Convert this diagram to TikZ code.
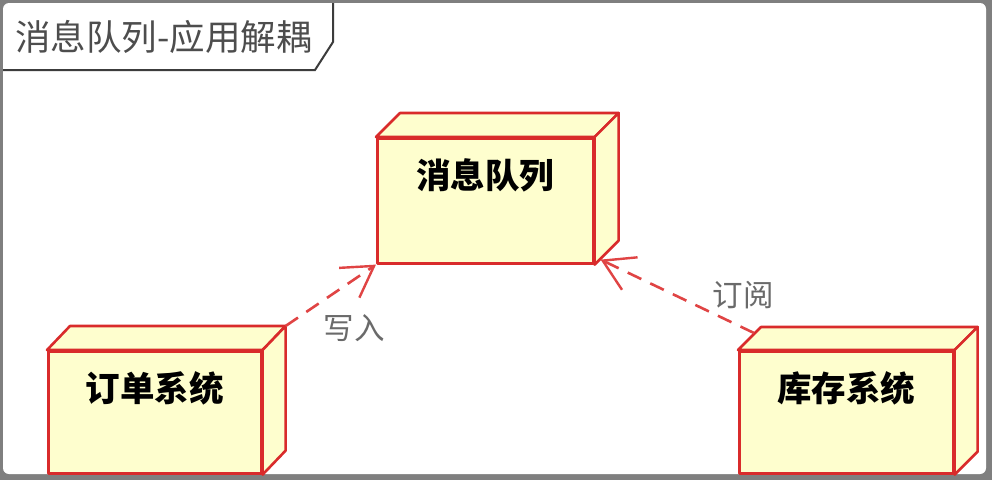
\documentclass[tikz,border=0pt]{standalone}
\usepackage{fontspec}
\newfontfamily\cjk{Noto Sans CJK SC}
\usetikzlibrary{arrows.meta,calc}
\definecolor{frameg}{HTML}{7F7F7F}
\definecolor{tabline}{HTML}{3C3C3C}
\definecolor{nodefill}{HTML}{FEFECE}
\definecolor{nodered}{HTML}{D92B2B}
\definecolor{arrred}{HTML}{E04444}
\definecolor{labelg}{HTML}{6A6A6A}
\definecolor{titleg}{HTML}{4D4D4D}
\begin{document}
\begin{tikzpicture}[x=1pt,y=-1pt,
  front/.style={draw=nodered, fill=nodefill, line width=2.6pt, inner sep=0pt, anchor=north west, line join=round},
  face/.style={draw=nodered, fill=nodefill, line width=2.6pt, line join=round},
  boxlabel/.style={font=\cjk\bfseries\fontsize{34.5}{38}\selectfont, text=black, inner sep=0pt},
  deplabel/.style={font=\cjk\fontsize{30.5}{33}\selectfont, text=labelg, inner sep=0pt},
  titletext/.style={font=\cjk\fontsize{35.5}{38}\selectfont, text=titleg, inner sep=0pt, anchor=west},
  dep/.style={draw=arrred, line width=2.6pt, dash pattern=on 15pt off 10pt,
    -{Straight Barb[length=30pt,width=36pt,line width=2.4pt]}}]
\useasboundingbox (0,0) rectangle (992,480);
% outer frame
\fill[frameg] (0,0) rectangle (992,480);
\fill[white, rounded corners=6pt] (3,3) rectangle (986,474);
% title tab
\draw[tabline, line width=2pt] (3,70) -- (315,70) -- (333,42) -- (333,3);
\node[titletext] (title) at (15,37) {消息队列-应用解耦};

% message queue
\node[front, minimum width=216pt, minimum height=125pt] (mq) at (376,137) {};
\draw[face] (mq.north west) -- ($(mq.north west)+(24,-24)$) -- ($(mq.north east)+(24,-24)$) -- (mq.north east) -- cycle;
\draw[face] (mq.north east) -- ($(mq.north east)+(24,-24)$) -- ($(mq.south east)+(24,-24)$) -- (mq.south east) -- cycle;
\node[boxlabel] (mqt) at ($(mq.north)+(0,38)$) {消息队列};

% order system
\node[front, minimum width=213pt, minimum height=122pt] (order) at (47,350) {};
\draw[face] (order.north west) -- ($(order.north west)+(23,-24)$) -- ($(order.north east)+(23,-24)$) -- (order.north east) -- cycle;
\draw[face] (order.north east) -- ($(order.north east)+(23,-24)$) -- ($(order.south east)+(23,-24)$) -- (order.south east) -- cycle;
\node[boxlabel] (ordert) at ($(order.north)+(0,38)$) {订单系统};

% stock system
\node[front, minimum width=214pt, minimum height=122pt] (stock) at (738,350) {};
\draw[face] (stock.north west) -- ($(stock.north west)+(23,-23)$) -- ($(stock.north east)+(23,-23)$) -- (stock.north east) -- cycle;
\draw[face] (stock.north east) -- ($(stock.north east)+(23,-23)$) -- ($(stock.south east)+(23,-23)$) -- (stock.south east) -- cycle;
\node[boxlabel] (stockt) at ($(stock.north)+(0,38)$) {库存系统};

% connectors
\coordinate (ordc) at ($(order.north east)+(23,-24)$);
\draw[dep] (ordc) -- (mq.south west);
\node[deplabel] (w) at (354,328) {写入};

\coordinate (stc) at ($(stock.north west)+(16,-17)$);
\coordinate (mqr) at ($(mq.south east)+(6,-5)$);
\draw[dep] (stc) -- (mqr);
\node[deplabel] (s) at (743,295) {订阅};
\end{tikzpicture}
\end{document}
